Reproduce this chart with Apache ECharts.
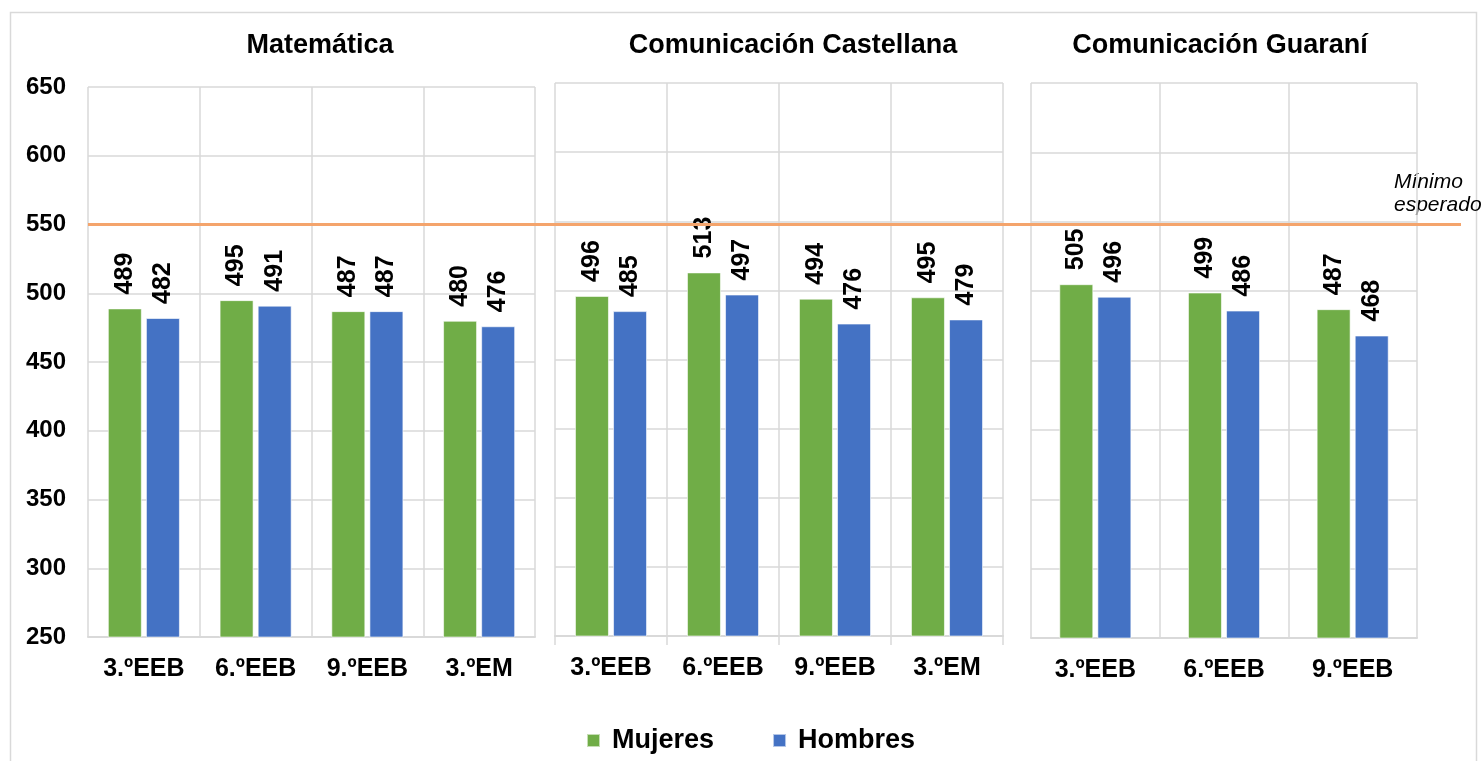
<!DOCTYPE html>
<html>
<head>
<meta charset="utf-8">
<script src="https://cdn.jsdelivr.net/npm/echarts@6/dist/echarts.min.js"></script>
<style>
html,body{margin:0;padding:0;background:#fff;}
#chart{width:1484px;height:761px;}
</style>
</head>
<body>
<div id="chart"></div>
<script>
// ---- data ----
const panelTitles = ['Matemática', 'Comunicación Castellana', 'Comunicación Guaraní'];
const catsMat = ['3.ºEEB', '6.ºEEB', '9.ºEEB', '3.ºEM'];
const catsCas = ['3.ºEEB', '6.ºEEB', '9.ºEEB', '3.ºEM'];
const catsGua = ['3.ºEEB', '6.ºEEB', '9.ºEEB'];
const mujeresMat = [489, 495, 487, 480];
const hombresMat = [482, 491, 487, 476];
const mujeresCas = [496, 513, 494, 495];
const hombresCas = [485, 497, 476, 479];
const mujeresGua = [505, 499, 487];
const hombresGua = [496, 486, 468];
const minimoEsperado = 550;
const yMin = 250, yMax = 650, yStep = 50;
const seriesNames = ['Mujeres', 'Hombres'];

// ---- styling ----
const FONT = '"Liberation Sans", Arial, sans-serif';
const GREEN = '#70AD47', BLUE = '#4472C4', ORANGE = '#F4A46C', GRID = '#D9D9D9';

const chart = echarts.init(document.getElementById('chart'), null, {renderer: 'canvas'});

const grids = [
  {left: 88, width: 447, top: 87, height: 550},
  {left: 555, width: 448, top: 83, height: 553},
  {left: 1031, width: 386, top: 83, height: 555},
  {left: 88, width: 1373, top: 87, height: 550}
];

function xAxisFor(idx, cats, ticks) {
  return {
    type: 'category', gridIndex: idx, data: cats,
    axisLine: {show: true, lineStyle: {color: GRID, width: 2}},
    axisTick: {show: ticks, length: 9, lineStyle: {color: GRID, width: 1.5}},
    splitLine: {show: true, lineStyle: {color: GRID, width: 1.5}},
    axisLabel: {color: '#000', fontFamily: FONT, fontWeight: 'bold', fontSize: 25, margin: 20}
  };
}
function yAxisFor(idx, showLabels) {
  return {
    type: 'value', gridIndex: idx, min: yMin, max: yMax, interval: yStep,
    axisLine: {show: false}, axisTick: {show: false},
    splitLine: {show: true, lineStyle: {color: GRID, width: 1.5}},
    axisLabel: {show: showLabels, color: '#000', fontFamily: FONT, fontWeight: 'bold', fontSize: 24, margin: 22}
  };
}
const labelCfg = {
  show: true, position: 'top', rotate: 90, align: 'left', verticalAlign: 'middle',
  distance: 14, color: '#000', fontFamily: FONT, fontWeight: 'bold', fontSize: 25
};
function bar(name, idx, data, color) {
  return {
    type: 'bar', name: name, xAxisIndex: idx, yAxisIndex: idx, data: data,
    barWidth: 34, barGap: '12%',
    itemStyle: {color: color, borderColor: 'rgba(255,255,255,0.6)', borderWidth: 1},
    label: labelCfg, emphasis: {disabled: true}
  };
}

const titleX = [320, 793, 1220];

const option = {
  animation: false,
  backgroundColor: '#fff',
  grid: grids,
  legend: {
    data: seriesNames, top: 722, left: 581, itemWidth: 13, itemHeight: 13, itemGap: 58,
    icon: 'rect',
    textStyle: {color: '#000', fontFamily: FONT, fontWeight: 'bold', fontSize: 27, padding: [0, 0, 0, 7]}
  },
  xAxis: [
    xAxisFor(0, catsMat, false),
    xAxisFor(1, catsCas, true),
    xAxisFor(2, catsGua, false),
    {type: 'value', gridIndex: 3, min: 0, max: 1, show: false}
  ],
  yAxis: [
    yAxisFor(0, true),
    yAxisFor(1, false),
    yAxisFor(2, false),
    {type: 'value', gridIndex: 3, min: yMin, max: yMax, show: false}
  ],
  series: [
    bar(seriesNames[0], 0, mujeresMat, GREEN),
    bar(seriesNames[1], 0, hombresMat, BLUE),
    bar(seriesNames[0], 1, mujeresCas, GREEN),
    bar(seriesNames[1], 1, hombresCas, BLUE),
    bar(seriesNames[0], 2, mujeresGua, GREEN),
    bar(seriesNames[1], 2, hombresGua, BLUE),
    {
      type: 'line', name: 'Mínimo esperado', xAxisIndex: 3, yAxisIndex: 3,
      data: [[0, minimoEsperado], [1, minimoEsperado]],
      showSymbol: false, symbol: 'none', silent: true, z: 5,
      lineStyle: {color: ORANGE, width: 3}
    }
  ],
  graphic: [
    {type: 'rect', silent: true, shape: {x: 10.5, y: 12.5, width: 1466, height: 760},
     style: {fill: 'none', stroke: GRID, lineWidth: 1.5}},
    ...panelTitles.map((t, i) => ({
      type: 'text', silent: true, x: titleX[i], y: 46,
      style: {text: t, textAlign: 'center', textVerticalAlign: 'middle',
              font: 'bold 27px ' + FONT, fill: '#000'}
    })),
    {type: 'text', silent: true, x: 1394, y: 171,
     style: {text: 'Mínimo\nesperado', textAlign: 'left', textVerticalAlign: 'top',
             font: 'italic 21px ' + FONT, fill: '#000', lineHeight: 23}}
  ]
};
chart.setOption(option);
</script>
</body>
</html>
